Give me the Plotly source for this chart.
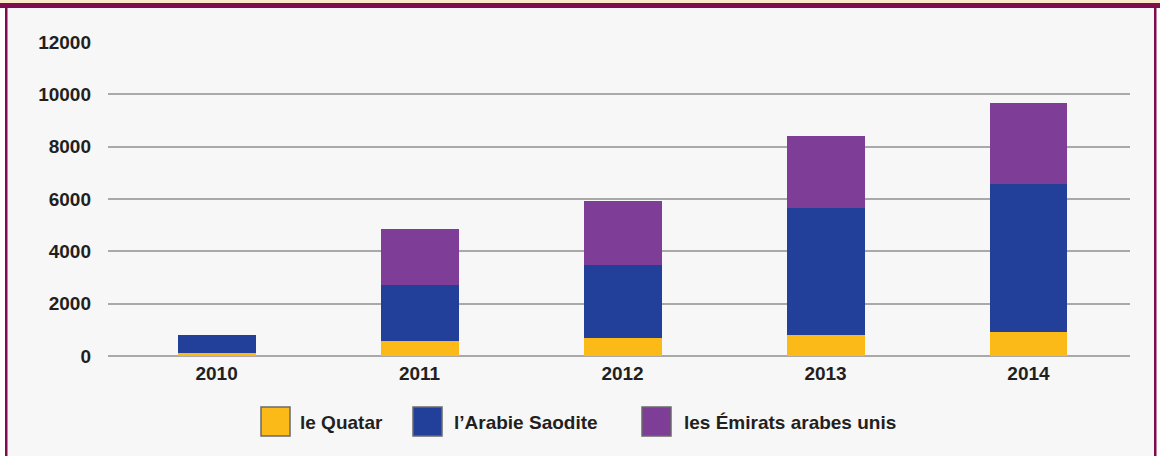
import plotly.graph_objects as go

years = ["2010", "2011", "2012", "2013", "2014"]
series_names = ["le Quatar", "l’Arabie Saodite", "les Émirats arabes unis"]
qatar = [110, 555, 670, 795, 910]
saudi = [710, 2150, 2790, 4855, 5655]
uae = [0, 2165, 2445, 2740, 3085]
y_ticks = [0, 2000, 4000, 6000, 8000, 10000, 12000]

colors = ["#FCBA19", "#22409A", "#7E3D96"]
W, H = 1160, 458
ML, MR, MT, MB = 108, 30, 42, 102
PW, PH = W - ML - MR, H - MT - MB

def px_x(p):
    return (p - ML) / PW

def px_y(p):
    return (H - MB - p) / PH

fig = go.Figure()
for name, vals, c in zip(series_names, [qatar, saudi, uae], colors):
    fig.add_trace(go.Bar(x=years, y=vals, name=name, marker=dict(color=c, line=dict(width=0)),
                         width=0.384, showlegend=False))

font_main = dict(family="Liberation Sans, Arial, sans-serif", size=19, color="#231F20", weight="bold")

shapes = []
def rect(x0, y0, x1, y1, fill, line_color=None, line_width=0, layer="below"):
    shapes.append(dict(type="rect", xref="paper", yref="paper",
                       x0=px_x(x0), x1=px_x(x1), y0=px_y(y1), y1=px_y(y0),
                       fillcolor=fill, line=dict(color=line_color or fill, width=line_width),
                       layer=layer))

# frame
rect(0, 0, W, 3, "#FBEBCB")
rect(0, 3, W, 8, "#7E0C4E")
rect(7.5, 8, 1154, 456, "#F7F7F7")
rect(5, 3, 7.5, 456, "#7E0C4E")
rect(1154, 3, 1156.5, 456, "#7E0C4E")

annotations = []
legend_sq_x = [261, 413, 642]
legend_tx_x = [298, 452, 682]
for name, c, sx, tx in zip(series_names, colors, legend_sq_x, legend_tx_x):
    rect(sx, 407, sx + 29, 436, c, "#6A6A6A", 1.5, layer="above")
    annotations.append(dict(xref="paper", yref="paper", x=px_x(tx), y=px_y(422),
                            xanchor="left", yanchor="middle", text=name, showarrow=False,
                            font=font_main))

fig.update_layout(
    width=W, height=H,
    margin=dict(l=ML, r=MR, t=MT, b=MB, pad=0),
    paper_bgcolor="#FFFFFF",
    plot_bgcolor="rgba(0,0,0,0)",
    barmode="stack",
    shapes=shapes,
    annotations=annotations,
    showlegend=False,
    xaxis=dict(type="category", range=[-0.535, 4.5], showgrid=False, zeroline=False,
               showline=False, ticks="", tickfont=font_main, ticklabelstandoff=4),
    yaxis=dict(range=[0, 12000], tickvals=y_ticks, ticktext=[str(v) for v in y_ticks],
               showgrid=True, gridcolor="#A9A9A9", gridwidth=2,
               zeroline=True, zerolinecolor="#A9A9A9", zerolinewidth=2,
               showline=False, ticks="", tickfont=font_main, ticklabelstandoff=16),
)

fig.write_html("out.html")
